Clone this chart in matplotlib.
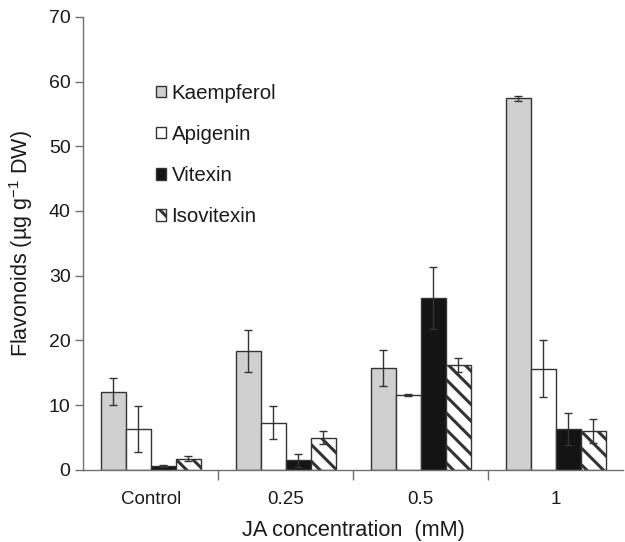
import numpy as np
import matplotlib
matplotlib.use("Agg")
import matplotlib.pyplot as plt
from matplotlib.ticker import FixedLocator

plt.rcParams['font.family'] = ['Liberation Sans', 'DejaVu Sans']
plt.rcParams['mathtext.fontset'] = 'custom'
plt.rcParams['mathtext.rm'] = 'Liberation Sans'
plt.rcParams['mathtext.it'] = 'Liberation Sans'
plt.rcParams['hatch.linewidth'] = 2.2

categories = ["Control", "0.25", "0.5", "1"]
compounds = ["Kaempferol", "Apigenin", "Vitexin", "Isovitexin"]

kaempferol = [12.1, 18.4, 15.7, 57.4]
kaempferol_err = [2.1, 3.2, 2.8, 0.4]
apigenin = [6.3, 7.3, 11.6, 15.6]
apigenin_err = [3.5, 2.6, 0.2, 4.4]
vitexin = [0.6, 1.5, 26.5, 6.3]
vitexin_err = [0.1, 1.0, 4.8, 2.5]
isovitexin = [1.7, 5.0, 16.2, 6.0]
isovitexin_err = [0.4, 1.0, 1.1, 1.8]

series = [kaempferol, apigenin, vitexin, isovitexin]
errors = [kaempferol_err, apigenin_err, vitexin_err, isovitexin_err]
fills = ["#d0d0d0", "white", "#141414", "white"]
hatches = [None, None, None, "\\\\"]

text_col = "#1a1a1a"
axis_col = "#707070"

fig = plt.figure(figsize=(6.25, 5.42), dpi=100)
ax = fig.add_axes([0.133, 0.133, 0.864, 0.836])

x = np.arange(len(categories))
w = 0.185
for i, (vals, err) in enumerate(zip(series, errors)):
    pos = x + (i - 1.5) * w
    ax.bar(pos, vals, width=w, color=fills[i], edgecolor="#333333",
           linewidth=1.0, hatch=hatches[i], label=compounds[i], zorder=2)
    ax.errorbar(pos, vals, yerr=err, fmt="none", ecolor="#333333",
                elinewidth=1.0, capsize=3, capthick=1.0, zorder=3)

ax.set_xlim(-0.5, 3.5)
ax.set_ylim(0, 70)
ax.set_yticks(np.arange(0, 71, 10))
ax.set_xticks(x)
ax.set_xticklabels(categories)
ax.xaxis.set_minor_locator(FixedLocator([0.5, 1.5, 2.5]))
ax.tick_params(axis="x", which="major", length=0, pad=15, labelsize=13.5,
               labelcolor=text_col)
ax.tick_params(axis="x", which="minor", length=7, width=1, color=axis_col,
               direction="out")
ax.tick_params(axis="y", length=6, width=1, color=axis_col, labelsize=14,
               labelcolor=text_col, pad=3)

for s in ["top", "right"]:
    ax.spines[s].set_visible(False)
for s in ["left", "bottom"]:
    ax.spines[s].set_color(axis_col)
    ax.spines[s].set_linewidth(1.0)

ax.set_xlabel("JA concentration  (mM)", fontsize=15.7, color=text_col, labelpad=9)
ax.set_ylabel("Flavonoids (µg g$^{-1}$ DW)", fontsize=15.5, color=text_col,
              labelpad=10)

leg = ax.legend(loc="upper left", bbox_to_anchor=(0.116, 0.875), frameon=False,
                fontsize=14.8, handlelength=0.5, handleheight=0.5,
                handletextpad=0.25, labelspacing=1.08, borderpad=0)
for t in leg.get_texts():
    t.set_color(text_col)

fig.savefig("out.png", dpi=100)
